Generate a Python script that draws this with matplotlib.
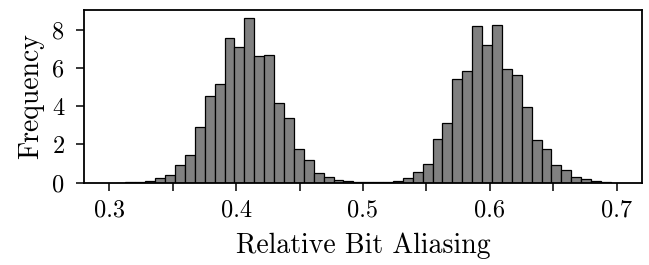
import numpy as np
import matplotlib
matplotlib.use('Agg')
import matplotlib.pyplot as plt
from matplotlib.ticker import MultipleLocator, FuncFormatter

# histogram (density): 50 equal bins
bin_lo = 0.3049
bin_hi = 0.6955
heights = [
    0.00, 0.01, 0.03, 0.07, 0.23, 0.38, 0.91, 1.43, 2.90, 4.54,
    5.15, 7.59, 7.12, 8.62, 6.61, 6.67, 4.19, 3.40, 1.78, 1.20,
    0.51, 0.30, 0.12, 0.07, 0.03, 0.02, 0.01, 0.02, 0.10, 0.23,
    0.58, 1.00, 2.27, 3.11, 5.41, 5.86, 8.18, 7.21, 8.24, 5.93,
    5.65, 3.96, 2.23, 1.75, 0.91, 0.65, 0.30, 0.19, 0.09, 0.05,
]
xlim = (0.28, 0.72)
ylim = (0, 9.04)
xticklabels = {0.3: '0.3', 0.4: '0.4', 0.5: '0.5', 0.6: '0.6', 0.7: '0.7'}

plt.rcParams['font.family'] = ['cmr10', 'DejaVu Serif']
plt.rcParams['mathtext.fontset'] = 'cm'
plt.rcParams['axes.unicode_minus'] = False

edges = np.linspace(bin_lo, bin_hi, len(heights) + 1)
centers = (edges[:-1] + edges[1:]) / 2

fig = plt.figure(figsize=(6.49, 2.65), dpi=100)
ax = fig.add_axes([0.1294, 0.3106, 0.8598, 0.6517])
ax.hist(centers, bins=edges, weights=heights, color='#808080',
        edgecolor='black', linewidth=0.9)

ax.set_xlim(*xlim)
ax.set_ylim(*ylim)
ax.xaxis.set_major_locator(MultipleLocator(0.05))
ax.xaxis.set_major_formatter(FuncFormatter(
    lambda v, p: next((s for k, s in xticklabels.items() if abs(v - k) < 1e-6), '')))
ax.yaxis.set_major_locator(MultipleLocator(2))

ax.tick_params(axis='both', direction='out', length=6, width=1.1,
               labelsize=17.5)
ax.tick_params(axis='x', pad=6)
ax.tick_params(axis='y', pad=8)
for sp in ax.spines.values():
    sp.set_linewidth(1.3)

ax.set_xlabel('Relative Bit Aliasing', fontsize=20, labelpad=8)
ax.set_ylabel('Frequency', fontsize=20, labelpad=6)

fig.savefig('out.png', dpi=100)
